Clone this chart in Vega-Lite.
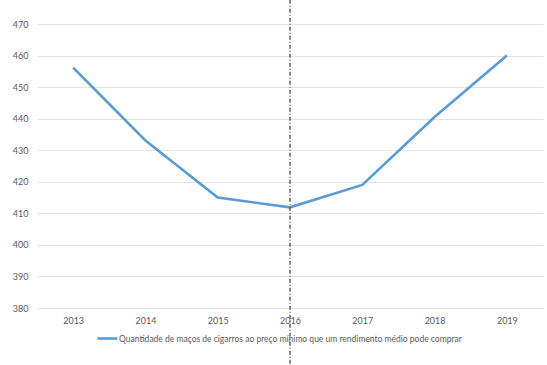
{
  "$schema": "https://vega.github.io/schema/vega-lite/v6.json",
  "width": 506,
  "height": 284,
  "autosize": {"type": "none"},
  "padding": {"left": 37, "top": 24, "right": 4, "bottom": 57},
  "background": "white",
  "config": {
    "view": {"stroke": null},
    "font": "Lato",
    "axis": {"labelFont": "Lato", "labelColor": "#595959", "labelFontSize": 9, "ticks": false, "domain": false, "labelOverlap": false}
  },
  "datasets": {
    "series": [
      {"ano": "2013", "valor": 456.2},
      {"ano": "2014", "valor": 433.1},
      {"ano": "2015", "valor": 415.0},
      {"ano": "2016", "valor": 411.9},
      {"ano": "2017", "valor": 419.0},
      {"ano": "2018", "valor": 440.5},
      {"ano": "2019", "valor": 460.0}
    ],
    "marker": [{"ano": "2016", "valor": 477.7, "y2": 361.5}]
  },
  "encoding": {
    "x": {
      "field": "ano", "type": "ordinal",
      "scale": {"type": "point", "padding": 0.5},
      "axis": {"title": null, "labelAngle": 0, "labelPadding": 8, "grid": false}
    },
    "y": {
      "field": "valor", "type": "quantitative",
      "scale": {"domain": [380, 470], "nice": false, "zero": false},
      "axis": {"title": null, "values": [380, 390, 400, 410, 420, 430, 440, 450, 460, 470], "labelPadding": 9, "grid": true, "gridColor": "#e3e3e3", "gridWidth": 1, "labelOverlap": false}
    }
  },
  "layer": [
    {
      "data": {"name": "series"},
      "mark": {"type": "line", "strokeWidth": 2.6, "interpolate": "linear"},
      "encoding": {
        "color": {
          "datum": "Quantidade de maços de cigarros ao preço mínimo que um rendimento médio pode comprar",
          "type": "nominal",
          "scale": {"range": ["#5B9BD5"]},
          "legend": {
            "title": null, "orient": "none", "legendX": 59, "legendY": 303,
            "symbolType": "stroke", "symbolSize": 400, "symbolStrokeWidth": 2.6,
            "labelFont": "Lato", "labelFontSize": 8.5, "labelColor": "#595959", "labelOffset": 0, "labelLimit": 600
          }
        }
      }
    },
    {
      "data": {"name": "marker"},
      "mark": {"type": "rule", "color": "#555555", "strokeWidth": 1.4, "strokeDash": [4, 2, 1, 2], "clip": false},
      "encoding": {
        "y2": {"field": "y2"}
      }
    }
  ]
}
